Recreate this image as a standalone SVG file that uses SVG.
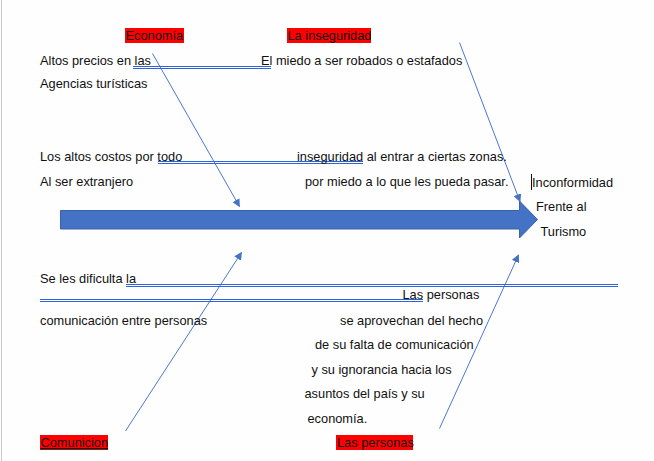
<svg xmlns="http://www.w3.org/2000/svg" width="654" height="461" viewBox="0 0 654 461">
<defs>
<style>
text{font-family:"Liberation Sans",Arial,sans-serif;font-size:12.8px;fill:#111}
.tag{fill:#ff0000}
.dl{stroke:#2f63d6;stroke-width:1;fill:none}
.con{stroke:#4a78d0;stroke-width:1;fill:none;marker-end:url(#ah)}
</style>
<marker id="ah" viewBox="0 0 10 10" refX="9" refY="5" markerWidth="8" markerHeight="8" markerUnits="userSpaceOnUse" orient="auto">
<path d="M0,0 L10,5 L0,10 z" fill="#4472c4"/>
</marker>
</defs>
<rect width="654" height="461" fill="#fefefe"/>
<line x1="1.5" y1="0" x2="1.5" y2="461" stroke="#c8c8c8" stroke-width="1"/>

<g id="spine">
<path d="M60.5,210.5 H519.5 V201 L537.5,219.5 L519.5,238 V229 H60.5 Z" fill="#4472c4" stroke="#3a60a6" stroke-width="1"/>
</g>

<g id="connectors">
<line class="con" x1="152.5" y1="53.5" x2="239.5" y2="206.5"/>
<line class="con" x1="459.5" y1="42.5" x2="520" y2="201.5"/>
<line class="con" x1="125.5" y1="431" x2="241.5" y2="252.5"/>
<line class="con" x1="439.5" y1="428.5" x2="518.5" y2="255"/>
<g id="double-lines">
<path class="dl" d="M133,66.5 H271 M133,68.5 H271"/>
<path class="dl" d="M158,161.5 H363 M158,163.5 H363"/>
<path class="dl" d="M126,284.5 H618 M126,286.5 H618"/>
<path class="dl" d="M40,299.5 H423 M40,301.5 H423"/>
</g>
</g>

<g id="cat-economia">
<rect class="tag" x="125" y="28" width="59" height="15"/>
<text x="125.5" y="40">Economía</text>
</g>
<g id="cat-inseguridad">
<rect class="tag" x="287" y="28" width="84" height="15"/>
<text x="287.5" y="40">La inseguridad</text>
</g>
<g id="cat-comunicion">
<rect class="tag" x="40" y="435" width="68" height="15"/>
<text x="40.5" y="447" text-decoration="underline">Comunicion</text>
</g>
<g id="cat-personas">
<rect class="tag" x="336" y="435" width="77" height="15"/>
<text x="337" y="447">Las personas</text>
</g>

<g id="cause-economia">
<text x="40" y="65">Altos precios en las</text>
<text x="40" y="88">Agencias turísticas</text>
<text x="40" y="161">Los altos costos por todo</text>
<text x="40" y="186">Al ser extranjero</text>
</g>
<g id="cause-inseguridad">
<text x="261" y="65">El miedo a ser robados o estafados</text>
<text x="297" y="161">inseguridad al entrar a ciertas zonas.</text>
<text x="305" y="186">por miedo a lo que les pueda pasar.</text>
</g>
<g id="effect">
<line x1="531.5" y1="174" x2="531.5" y2="190" stroke="#111" stroke-width="1"/>
<text x="532" y="186.5">Inconformidad</text>
<text x="536" y="211">Frente al</text>
<text x="540.5" y="235.5">Turismo</text>
</g>
<g id="cause-comunicacion">
<text x="40" y="283">Se les dificulta la</text>
<text x="40" y="325">comunicación entre personas</text>
</g>
<g id="cause-personas">
<text x="402.5" y="299">Las personas</text>
<text x="340" y="324.5">se aprovechan del hecho</text>
<text x="315" y="348.5">de su falta de comunicación</text>
<text x="311.5" y="374">y su ignorancia hacia los</text>
<text x="304.5" y="397.5">asuntos del país y su</text>
<text x="307.5" y="422.5">economía.</text>
</g>
</svg>
